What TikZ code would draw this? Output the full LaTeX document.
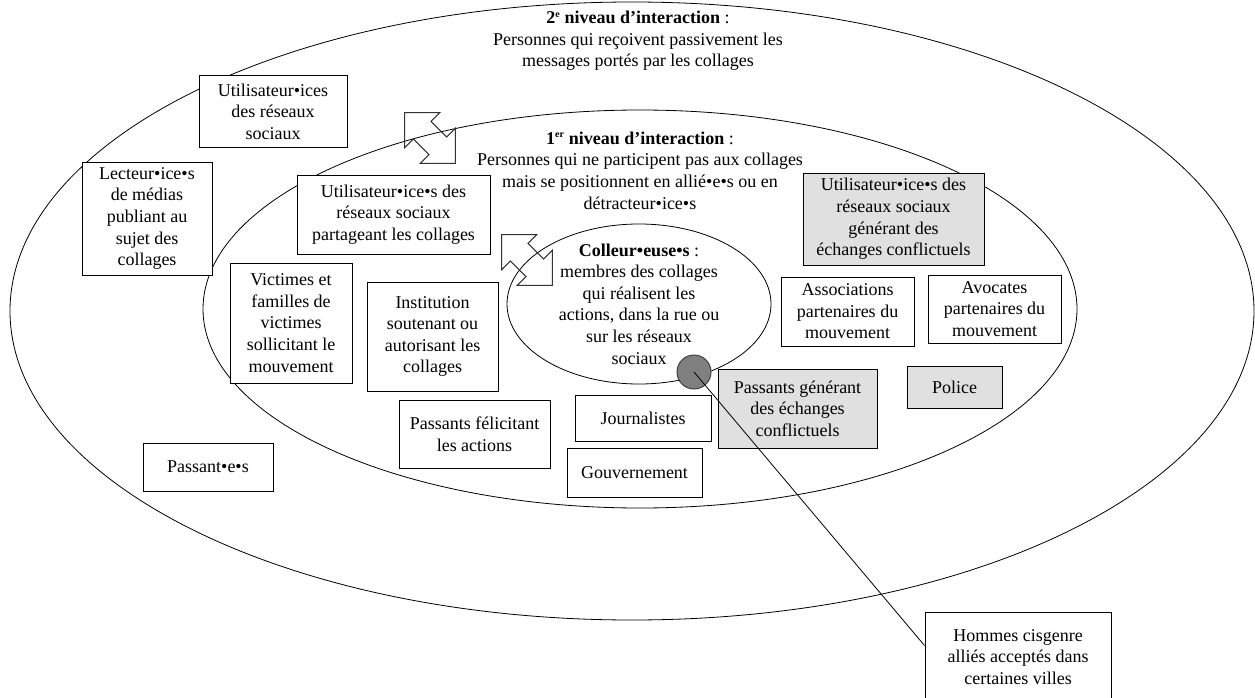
\documentclass[tikz,border=0pt]{standalone}
\usepackage{fontspec}
\setmainfont{Liberation Serif}
\definecolor{boxgrey}{RGB}{224,224,224}
\definecolor{dotgrey}{RGB}{128,128,128}
\newcommand{\expo}[1]{\textsuperscript{\fontsize{10}{10}\selectfont #1}}
\tikzset{every node/.style={font=\fontsize{18}{21.6}\selectfont}}
\tikzset{
  box/.style={draw, fill=white, line width=1pt, align=center, inner sep=0pt},
  greybox/.style={box, fill=boxgrey},
  ring/.style={draw, line width=0.8pt},
  dblarrow/.style={draw=black!80, line width=1pt, line join=miter}
}

\begin{document}
\begin{tikzpicture}[x=1pt, y=-1pt]
  \useasboundingbox (0,0) rectangle (1255,698);

  % levels of interaction
  \draw [ring] (632,311) ellipse [x radius=622, y radius=309];
  \draw [ring] (640,309) ellipse [x radius=437, y radius=199];
  \draw [ring] (639,304) ellipse [x radius=132, y radius=80];

  \node [align=center] (niv2) at (638,41) {\textbf{2\expo{e} niveau d’interaction} :\\Personnes qui reçoivent passivement les\\messages portés par les collages};
  \node [align=center] (niv1) at (640,170.5) {\textbf{1\expo{er} niveau d’interaction} :\\Personnes qui ne participent pas aux collages\\mais se positionnent en allié•e•s ou en\\détracteur•ice•s};
  \node [align=center] (coll) at (639,304) {\textbf{Colleur•euse•s} :\\membres des collages\\qui réalisent les\\actions, dans la rue ou\\sur les réseaux\\sociaux};

  % exchanges between levels
  \foreach \cx/\cy in {430/138, 527/260} {
    \draw [dblarrow, shift={(\cx,\cy)}, rotate=-45] (-36,0) -- (-11,25) -- (-11,12.5) -- (11,12.5) -- (11,25) -- (36,0) -- (11,-25) -- (11,-12.5) -- (-11,-12.5) -- (-11,-25) -- cycle;
  }

  % 2nd level
  \node [box, minimum width=148pt, minimum height=71pt] (res) at (273,111.5) {Utilisateur•ices\\des réseaux\\sociaux};
  \node [box, minimum width=130pt, minimum height=113pt] (lect) at (147,218.5) {Lecteur•ice•s\\de médias\\publiant au\\sujet des\\collages};
  \node [box, minimum width=130pt, minimum height=48pt] (passe) at (208,467) {Passant•e•s};

  % 1st level
  \node [box, minimum width=193pt, minimum height=79pt] (part) at (393.5,214.5) {Utilisateur•ice•s des\\réseaux sociaux\\partageant les collages};
  \node [box, minimum width=122pt, minimum height=120pt] (vict) at (291,323) {Victimes et\\familles de\\victimes\\sollicitant le\\mouvement};
  \node [box, minimum width=131pt, minimum height=109pt] (inst) at (432.5,336.5) {Institution\\soutenant ou\\autorisant les\\collages};
  \node [box, minimum width=151pt, minimum height=68pt] (feli) at (474.5,434) {Passants félicitant\\les actions};
  \node [box, minimum width=136pt, minimum height=46pt] (journ) at (643,418) {Journalistes};
  \node [box, minimum width=135pt, minimum height=49pt] (gouv) at (634.5,472.5) {Gouvernement};
  \node [greybox, minimum width=159pt, minimum height=79pt] (pconf) at (797.5,408.5) {Passants générant\\des échanges\\conflictuels};
  \node [greybox, minimum width=181pt, minimum height=92pt] (uconf) at (893.5,219) {Utilisateur•ice•s des\\réseaux sociaux\\générant des\\échanges conflictuels};
  \node [box, minimum width=133pt, minimum height=69pt] (assoc) at (847.5,311.5) {Associations\\partenaires du\\mouvement};
  \node [box, minimum width=133pt, minimum height=68pt] (avoc) at (994.5,309) {Avocates\\partenaires du\\mouvement};
  \node [greybox, minimum width=95pt, minimum height=42pt] (police) at (954.5,387) {Police};

  % allies
  \node [box, minimum width=186pt, minimum height=90pt] (hommes) at (1018,657) {Hommes cisgenre\\alliés acceptés dans\\certaines villes};
  \node [circle, draw=black!75, fill=dotgrey, line width=1pt, minimum size=34pt, inner sep=0pt] (allies) at (694,372) {};
  \draw [line width=0.8pt] (allies.center) -- (hommes.173);
\end{tikzpicture}
\end{document}
